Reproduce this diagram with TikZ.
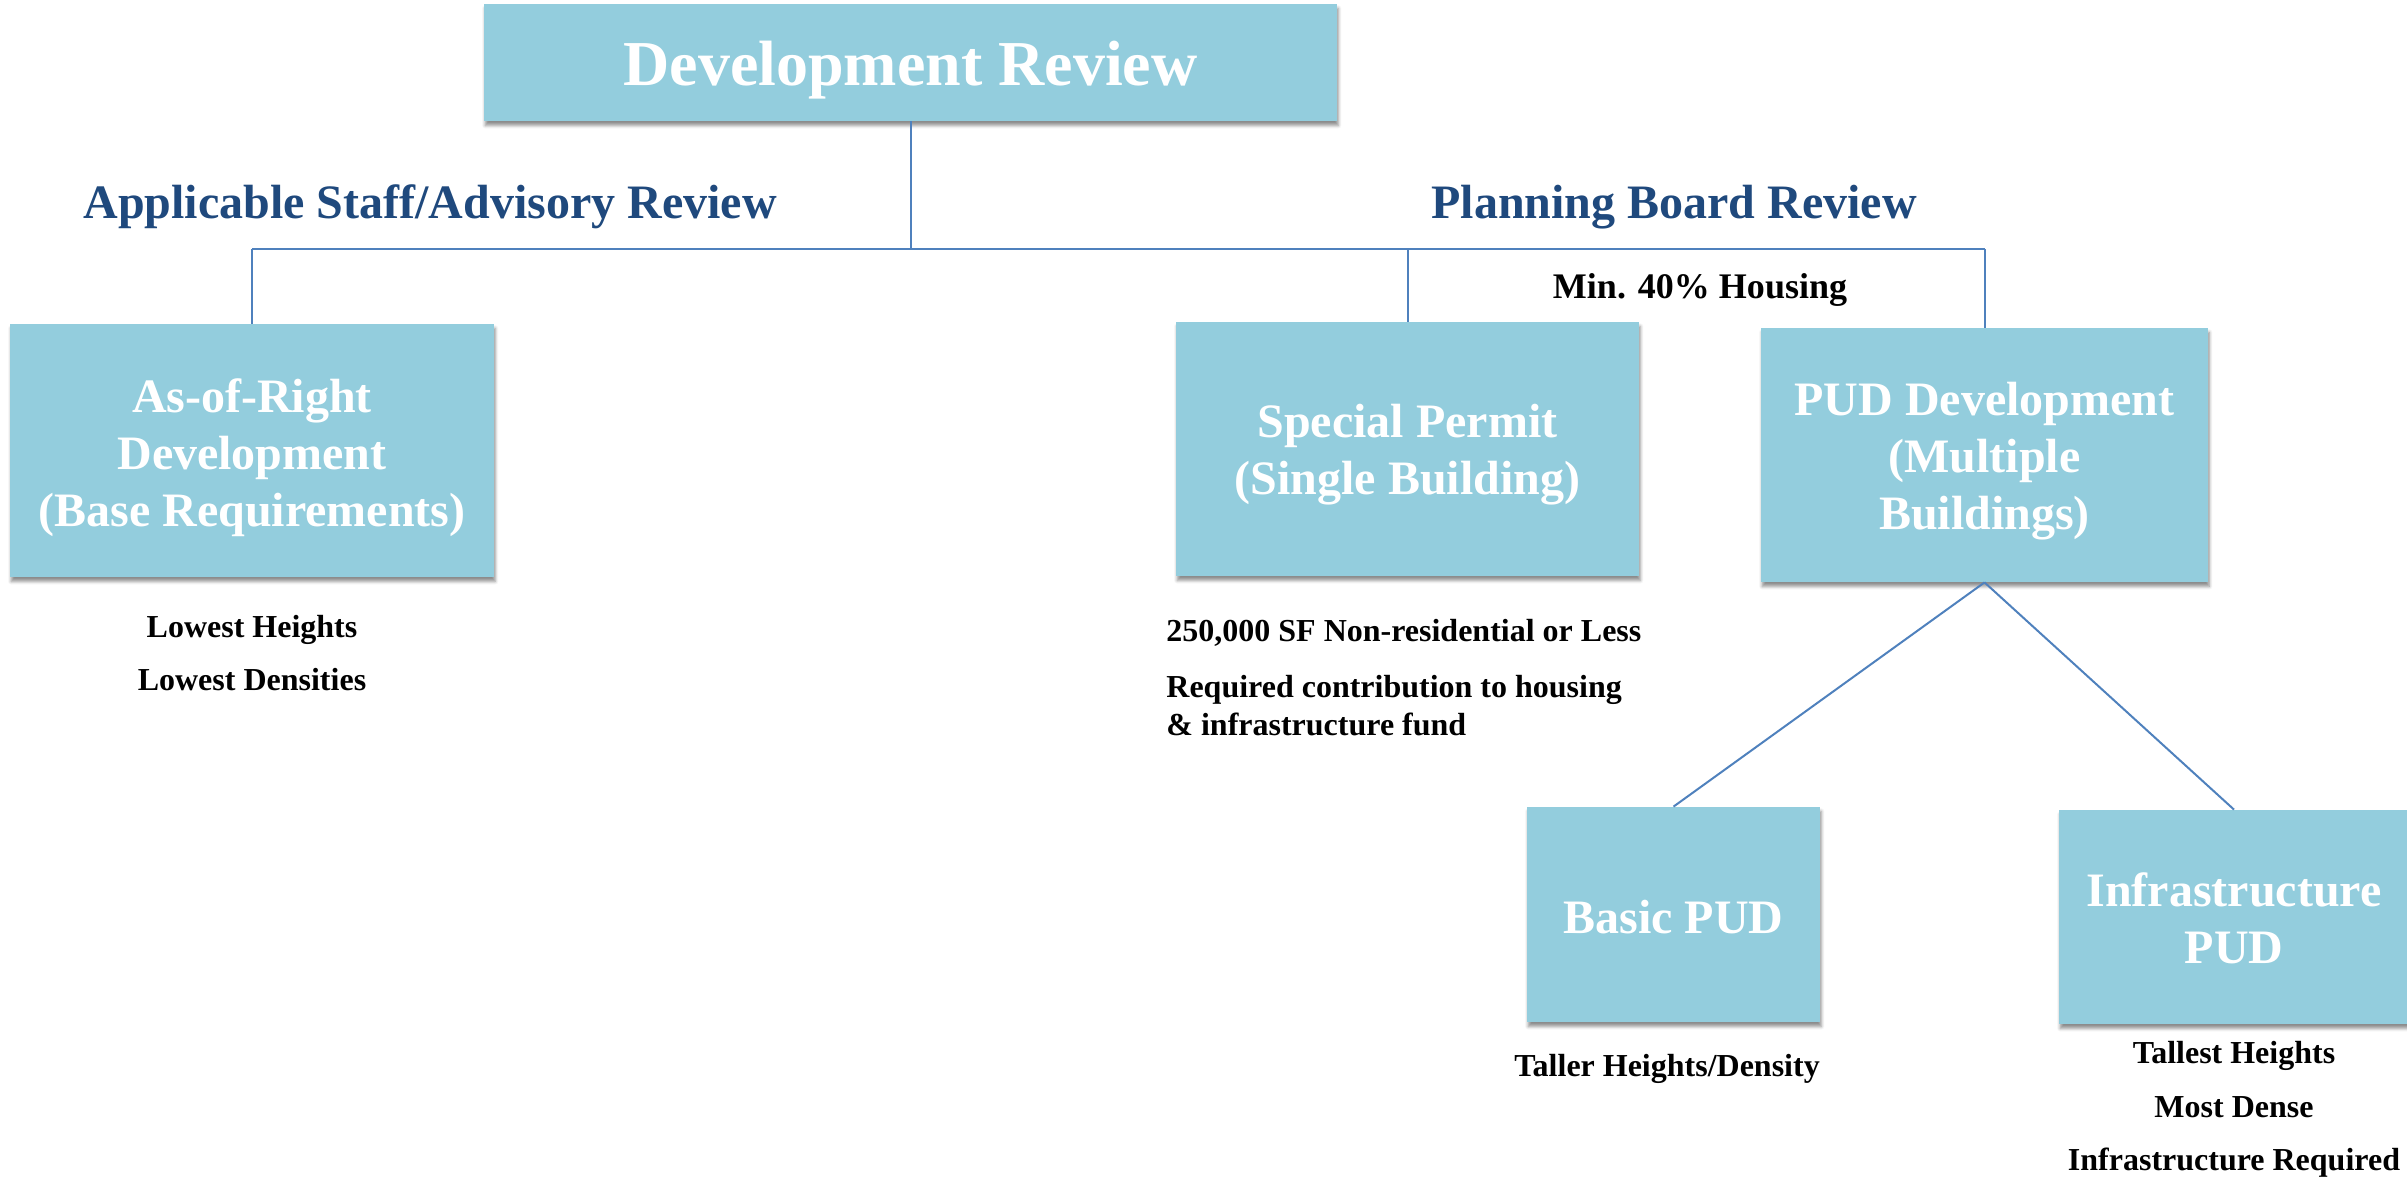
\documentclass[tikz,border=0pt]{standalone}
\usepackage{fontspec}
\setmainfont{Liberation Serif}
\usetikzlibrary{shadows.blur}
\definecolor{boxfill}{HTML}{93CDDD}
\definecolor{linkblue}{HTML}{4F81BD}
\definecolor{headblue}{HTML}{1F497D}
\tikzset{
  bluebox/.style={rectangle, fill=boxfill, inner sep=0pt,
    blur shadow={shadow xshift=0.6pt, shadow yshift=-2.2pt, shadow blur radius=1.6pt, shadow opacity=45}},
  boxtext/.style={inner sep=0pt, align=center, text=white,
    font=\bfseries\fontsize{24}{28.5}\selectfont},
  headtext/.style={anchor=base, text=headblue, inner sep=0pt, font=\bfseries\fontsize{24}{28.5}\selectfont},
  smalltext/.style={anchor=base, text=black, inner sep=0pt, font=\bfseries\fontsize{16}{19}\selectfont},
  link/.style={draw=linkblue, line width=1pt}
}
\begin{document}
\begin{tikzpicture}[x=0.5pt, y=-0.5pt]
\useasboundingbox (0,0) rectangle (2407,1178);
% boxes
\node[bluebox, minimum width=426.5pt, minimum height=58.5pt] (top) at (910.5,62.5) {};
\node[bluebox, minimum width=242pt, minimum height=126.5pt] (asr) at (252,450.5) {};
\node[bluebox, minimum width=231.5pt, minimum height=127pt] (sp) at (1407.5,449) {};
\node[bluebox, minimum width=223.5pt, minimum height=127pt] (pud) at (1984.5,455) {};
\node[bluebox, minimum width=146.5pt, minimum height=107.5pt] (basic) at (1673.5,914.5) {};
\node[bluebox, minimum width=175pt, minimum height=107pt] (infra) at (2234,917) {};
% box texts
\node[boxtext, font=\bfseries\fontsize{32}{38}\selectfont] (topt) at ([yshift=-3.6pt]top.center) {Development Review};
\node[boxtext] (asrt) at ([yshift=-3.4pt]asr.center) {As-of-Right\\Development\\(Base Requirements)};
\node[boxtext] (spt) at ([yshift=-2.8pt]sp.center) {Special Permit\\(Single Building)};
\node[boxtext] (pudt) at ([yshift=-3pt]pud.center) {PUD Development\\(Multiple\\Buildings)};
\node[boxtext] (basict) at ([yshift=-1.5pt]basic.center) {Basic PUD};
\node[boxtext] (infrat) at ([yshift=-0.6pt]infra.center) {Infrastructure\\PUD};
% headings
\node[headtext] (hleft) at (430,218) {Applicable Staff/Advisory Review};
\node[headtext] (hright) at (1674,218) {Planning Board Review};
\node[smalltext, font=\bfseries\fontsize{18}{21}\selectfont] (minh) at (1700,298) {Min. 40\% Housing};
% annotations
\node[smalltext] (lh) at (252,637) {Lowest Heights};
\node[smalltext] (ld) at (252,690) {Lowest Densities};
\node[smalltext, anchor=base west] (sf) at (1166,641) {250,000 SF Non-residential or Less};
\node[smalltext, anchor=base west] (rc1) at (1166,697) {Required contribution to housing};
\node[smalltext, anchor=base west] (rc2) at (1166,735) {\& infrastructure fund};
\node[smalltext] (th) at (1667,1076) {Taller Heights/Density};
\node[smalltext] (tl) at (2234,1063) {Tallest Heights};
\node[smalltext] (md) at (2234,1117) {Most Dense};
\node[smalltext] (ir) at (2234,1170) {Infrastructure Required};
% connectors
\coordinate (jL) at (252,249);
\coordinate (jR) at (1984.5,249);
\draw[link] (top.south) -- (top.south |- jL);
\draw[link] (jL) -- (jR);
\draw[link] (jL) -- (asr.north);
\draw[link] (sp.north |- jL) -- (sp.north);
\draw[link] (jR) -- (pud.north);
\draw[link] (pud.south) -- (basic.north);
\draw[link] (pud.south) -- (infra.north);
\end{tikzpicture}
\end{document}
